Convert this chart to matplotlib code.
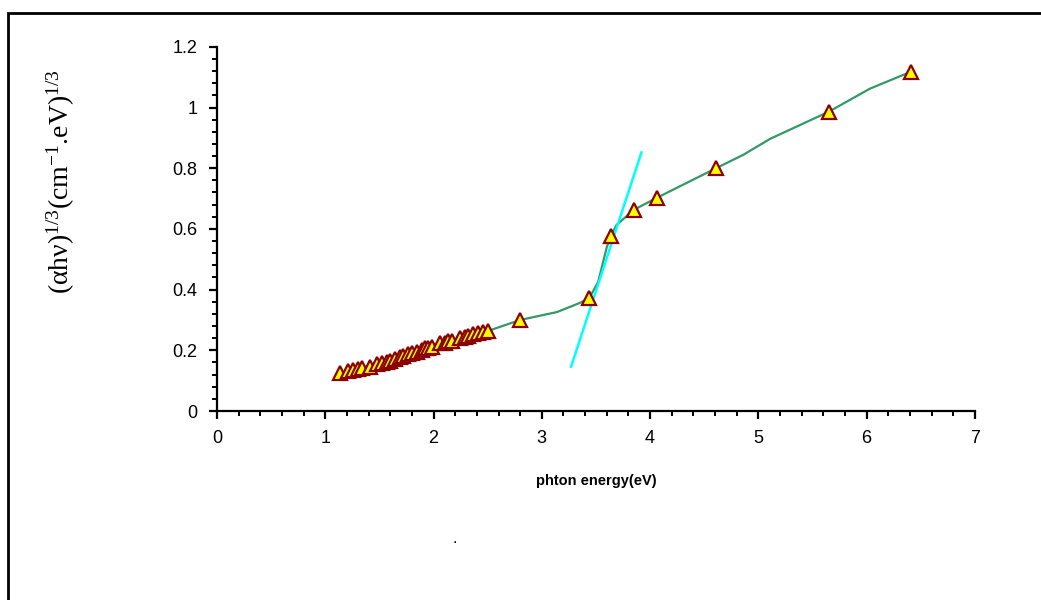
import matplotlib
matplotlib.use("Agg")
import matplotlib.pyplot as plt
from matplotlib.ticker import MultipleLocator
from matplotlib.patches import Rectangle

# measured points (markers)
energy = [1.136, 1.213, 1.259, 1.305, 1.336, 1.413, 1.474, 1.521, 1.567, 1.597,
          1.644, 1.690, 1.720, 1.767, 1.797, 1.844, 1.890, 1.921, 1.951, 1.982,
          2.059, 2.105, 2.136, 2.167, 2.244, 2.290, 2.320, 2.367, 2.413, 2.459,
          2.505, 2.80, 3.44, 3.64, 3.85, 4.06, 4.61, 5.65, 6.41]
absorb = [0.124, 0.132, 0.135, 0.138, 0.141, 0.146, 0.155, 0.157, 0.163, 0.166,
          0.170, 0.177, 0.181, 0.187, 0.190, 0.193, 0.201, 0.207, 0.209, 0.212,
          0.223, 0.225, 0.229, 0.232, 0.240, 0.245, 0.248, 0.253, 0.256, 0.259,
          0.264, 0.300, 0.373, 0.577, 0.663, 0.702, 0.800, 0.986, 1.118]

# curve through the data (denser than markers)
curve_x = [1.136, 1.5, 2.0, 2.505, 2.80, 3.14, 3.35, 3.44, 3.52, 3.60, 3.64,
           3.69, 3.85, 4.06, 4.61, 4.86, 5.11, 5.65, 6.03, 6.41]
curve_y = [0.124, 0.158, 0.213, 0.264, 0.300, 0.326, 0.356, 0.373, 0.425, 0.540,
           0.577, 0.613, 0.663, 0.702, 0.800, 0.844, 0.897, 0.986, 1.062, 1.118]

# tangent line for the gap
fit_x = [3.27, 3.92]
fit_y = [0.146, 0.852]

plt.rcParams['font.family'] = ['Liberation Sans', 'DejaVu Sans']
plt.rcParams['mathtext.default'] = 'regular'

fig = plt.figure(figsize=(10.41, 6.0), dpi=100)
ax = fig.add_axes([0.2085, 0.315, 0.728, 0.607])

ax.plot(curve_x, curve_y, color='#339966', lw=1.6, zorder=2)
ax.plot(fit_x, fit_y, color='#00FFFF', lw=1.8, zorder=3)
ax.plot(energy, absorb, '^', ms=9.5, mfc='#FFFF00', mec='#8B0000', mew=1.6, ls='none', zorder=4)

ax.set_xlim(0, 7)
ax.set_ylim(0, 1.2)
ax.xaxis.set_major_locator(MultipleLocator(1))
ax.xaxis.set_minor_locator(MultipleLocator(0.2))
ax.yaxis.set_minor_locator(MultipleLocator(0.04))
ax.set_yticks([0, 0.2, 0.4, 0.6, 0.8, 1.0, 1.2])
ax.set_yticklabels(['0', '0.2', '0.4', '0.6', '0.8', '1', '1.2'])

for s in ['top', 'right']:
    ax.spines[s].set_visible(False)
for s in ['left', 'bottom']:
    ax.spines[s].set_linewidth(1.6)

ax.tick_params(which='major', direction='out', length=6, width=1.6, labelsize=13, pad=8)
ax.tick_params(which='minor', direction='out', length=3.5, width=1.4)

ax.set_xlabel('phton energy(eV)', fontsize=10.5, fontweight='bold', labelpad=19)

fig.text(0.058, 0.697, '(αhν)$^{1/3}$(cm$^{-1}$.eV)$^{1/3}$', rotation=90,
         family=['Liberation Serif'], fontsize=20, ha='center', va='center')

fig.text(0.437, 0.103, '.', fontsize=12, ha='center', va='center')

fig.patches.append(Rectangle((0.008, -0.1), 1.1, 1.079, transform=fig.transFigure,
                             fill=False, ec='black', lw=2, figure=fig))

fig.savefig('out.png', dpi=100)
